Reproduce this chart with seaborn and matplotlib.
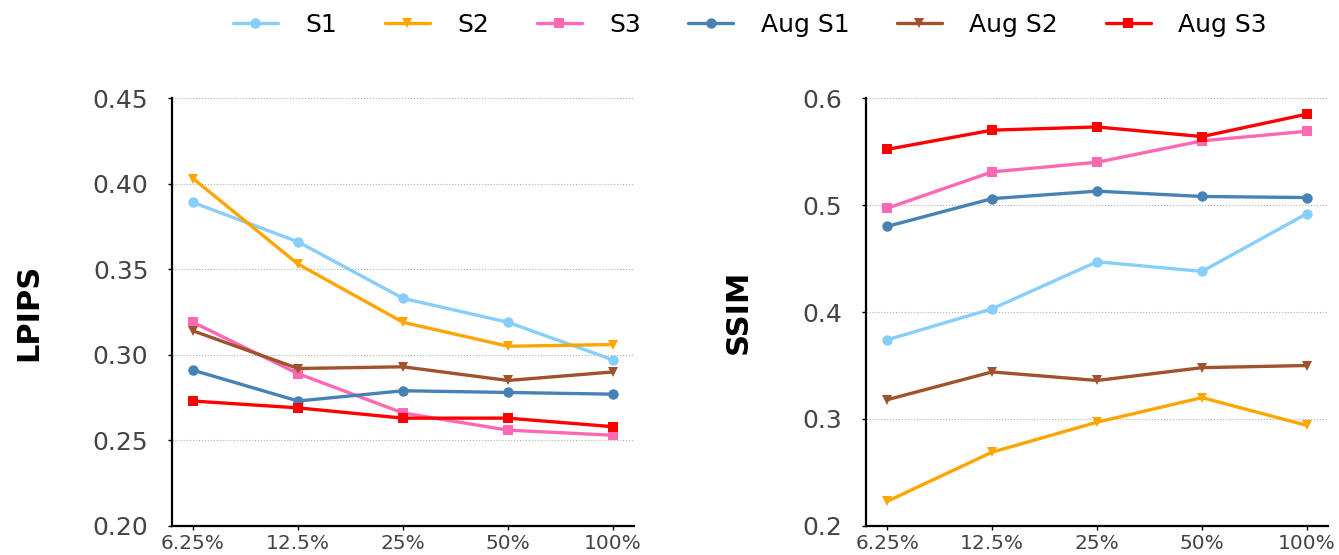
import matplotlib
matplotlib.use("Agg")
import matplotlib.pyplot as plt
import pandas as pd
import seaborn as sns

ratios = ["6.25%", "12.5%", "25%", "50%", "100%"]
series = ["S1", "S2", "S3", "Aug S1", "Aug S2", "Aug S3"]

lpips_s1 = [0.389, 0.366, 0.333, 0.319, 0.297]
lpips_s2 = [0.403, 0.353, 0.319, 0.305, 0.306]
lpips_s3 = [0.319, 0.289, 0.266, 0.256, 0.253]
lpips_aug_s1 = [0.291, 0.273, 0.279, 0.278, 0.277]
lpips_aug_s2 = [0.314, 0.292, 0.293, 0.285, 0.290]
lpips_aug_s3 = [0.273, 0.269, 0.263, 0.263, 0.258]

ssim_s1 = [0.374, 0.403, 0.447, 0.438, 0.492]
ssim_s2 = [0.223, 0.269, 0.297, 0.320, 0.294]
ssim_s3 = [0.497, 0.531, 0.540, 0.560, 0.569]
ssim_aug_s1 = [0.480, 0.506, 0.513, 0.508, 0.507]
ssim_aug_s2 = [0.318, 0.344, 0.336, 0.348, 0.350]
ssim_aug_s3 = [0.552, 0.570, 0.573, 0.564, 0.585]

colors = {"S1": "#87CEFA", "S2": "#FFA500", "S3": "#FF69B4",
          "Aug S1": "#4682B4", "Aug S2": "#A0522D", "Aug S3": "#FF0000"}
markers = {"S1": "o", "S2": "v", "S3": "s",
           "Aug S1": "o", "Aug S2": "v", "Aug S3": "s"}


def to_long(values, metric):
    rows = []
    for name, vals in zip(series, values):
        for r, v in zip(ratios, vals):
            rows.append({"Ratio": r, "Series": name, metric: v})
    return pd.DataFrame(rows)


lpips_df = to_long([lpips_s1, lpips_s2, lpips_s3, lpips_aug_s1, lpips_aug_s2, lpips_aug_s3], "LPIPS")
ssim_df = to_long([ssim_s1, ssim_s2, ssim_s3, ssim_aug_s1, ssim_aug_s2, ssim_aug_s3], "SSIM")

sns.set_theme(style="white")
plt.rcParams['font.family'] = ['DejaVu Sans']

fig = plt.figure(figsize=(13.39, 5.55), dpi=100)
ax1 = fig.add_axes([0.1285, 0.0523, 0.345, 0.771])
ax2 = fig.add_axes([0.6468, 0.0523, 0.345, 0.771])

panels = [
    (ax1, lpips_df, "LPIPS", (0.20, 0.45), [0.20, 0.25, 0.30, 0.35, 0.40, 0.45], "{:.2f}", -0.279),
    (ax2, ssim_df, "SSIM", (0.2, 0.6), [0.2, 0.3, 0.4, 0.5, 0.6], "{:.1f}", -0.245),
]

for ax, df, metric, ylim, yticks, fmt, lx in panels:
    sns.lineplot(data=df, x="Ratio", y=metric, hue="Series", style="Series",
                 palette=colors, markers=markers, dashes=False, linewidth=2.4,
                 markersize=7.5, markeredgewidth=0, ax=ax, legend=(ax is ax1))
    ax.set_xlim(-0.2, 4.2)
    ax.set_ylim(*ylim)
    ax.set_yticks(yticks)
    ax.set_yticklabels([fmt.format(t) for t in yticks])
    ax.set_xlabel("")
    ax.set_ylabel(metric, fontsize=22, fontweight="bold", color="black")
    ax.yaxis.set_label_coords(lx, 0.5)
    ax.yaxis.grid(True, linestyle=":", color="#b0b0b0", linewidth=0.8)
    ax.xaxis.grid(False)
    for s in ["top", "right"]:
        ax.spines[s].set_visible(False)
    for s in ["left", "bottom"]:
        ax.spines[s].set_color("black")
        ax.spines[s].set_linewidth(1.6)
    ax.tick_params(axis="y", labelsize=18, colors="#444444", length=3, width=1,
                   direction="out", left=True, pad=14)
    ax.tick_params(axis="x", labelsize=14.5, colors="#444444", length=3, width=1,
                   direction="out", bottom=True, pad=3)
    ax.tick_params(axis="both", color="black")

handles, labels = ax1.get_legend_handles_labels()
ax1.get_legend().remove()
fig.legend(handles, labels, loc="center", bbox_to_anchor=(0.56, 0.955), ncol=6,
           frameon=False, fontsize=18, handlelength=1.8, columnspacing=1.9,
           handletextpad=1.1, labelcolor="black")

fig.savefig("out.png", dpi=100)
